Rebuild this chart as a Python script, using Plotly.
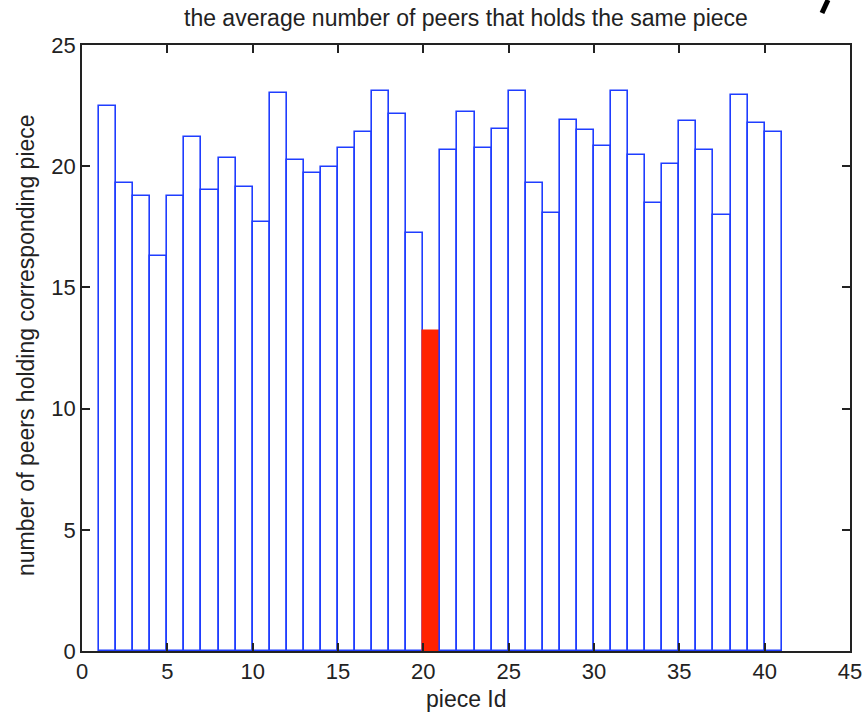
import plotly.graph_objects as go

# ---- data ----
piece_ids = list(range(1, 41))
peer_counts = [22.50, 19.29, 18.78, 16.28, 18.78, 21.19, 19.01, 20.33, 19.15, 17.69,
               23.03, 20.24, 19.73, 19.97, 20.75, 21.40, 23.09, 22.14, 17.24, 13.21,
               20.67, 22.22, 20.75, 21.55, 23.09, 19.29, 18.06, 21.92, 21.49, 20.82,
               23.09, 20.45, 18.48, 20.09, 21.86, 20.67, 17.97, 22.94, 21.77, 21.40]
highlight_id = 20
x_ticks = [0, 5, 10, 15, 20, 25, 30, 35, 40, 45]
y_ticks = [0, 5, 10, 15, 20, 25]

title_text = "the average number of peers that holds the same piece"
x_title = "piece Id"
y_title = "number of peers holding corresponding piece"

BLUE = "#1f3dff"
RED = "#ff2200"
FONT = "Liberation Sans, Arial, sans-serif"

fill_colors = [RED if i == highlight_id else "white" for i in piece_ids]
line_colors = [RED if i == highlight_id else BLUE for i in piece_ids]

fig = go.Figure()
fig.add_trace(go.Bar(
    x=piece_ids, y=peer_counts, width=1, offset=0,
    marker=dict(color=fill_colors, line=dict(color=line_colors, width=1.6)),
    showlegend=False, hoverinfo="x+y",
))

W, H = 865, 716
L, R, T, B = 82, 15, 45, 65
pw, ph = W - L - R, H - T - B

def px_to_paper(px, py):
    return (px - L) / pw, (H - B - py) / ph

axis_common = dict(ticks="inside", ticklen=8, tickwidth=1.5, tickcolor="#222222",
                   showline=True, linecolor="#222222", linewidth=1.5, mirror="ticks",
                   showgrid=False, zeroline=False, automargin=False,
                   tickfont=dict(size=22, family=FONT, color="#222222"))

fig.update_layout(
    width=W, height=H,
    margin=dict(l=L, r=R, t=T, b=B, pad=0, autoexpand=False),
    paper_bgcolor="white", plot_bgcolor="white",
    font=dict(family=FONT, size=21, color="#222222"),
    bargap=0,
    xaxis=dict(range=[0, 45], tickvals=x_ticks, **axis_common),
    yaxis=dict(range=[0, 25], tickvals=y_ticks, **axis_common),
)

ax, ay = px_to_paper(466, 18)
bx, by = px_to_paper(466, 699)
cx, cy = px_to_paper(26, 345)
fig.add_annotation(text=title_text, x=ax, y=ay, xref="paper", yref="paper",
                   showarrow=False, xanchor="center", yanchor="middle",
                   font=dict(size=23, family=FONT, color="#222222"))
fig.add_annotation(text=x_title, x=bx, y=by, xref="paper", yref="paper",
                   showarrow=False, xanchor="center", yanchor="middle",
                   font=dict(size=23, family=FONT, color="#222222"))
fig.add_annotation(text=y_title, x=cx, y=cy, xref="paper", yref="paper",
                   showarrow=False, xanchor="center", yanchor="middle", textangle=-90,
                   font=dict(size=23, family=FONT, color="#222222"))

# stray pen stroke in the top-right corner of the original picture
sx0, sy0 = px_to_paper(822, 13)
sx1, sy1 = px_to_paper(828, 0)
fig.add_shape(type="line", xref="paper", yref="paper", x0=sx0, y0=sy0, x1=sx1, y1=sy1,
              line=dict(color="black", width=5))

fig.write_html("out.html")
